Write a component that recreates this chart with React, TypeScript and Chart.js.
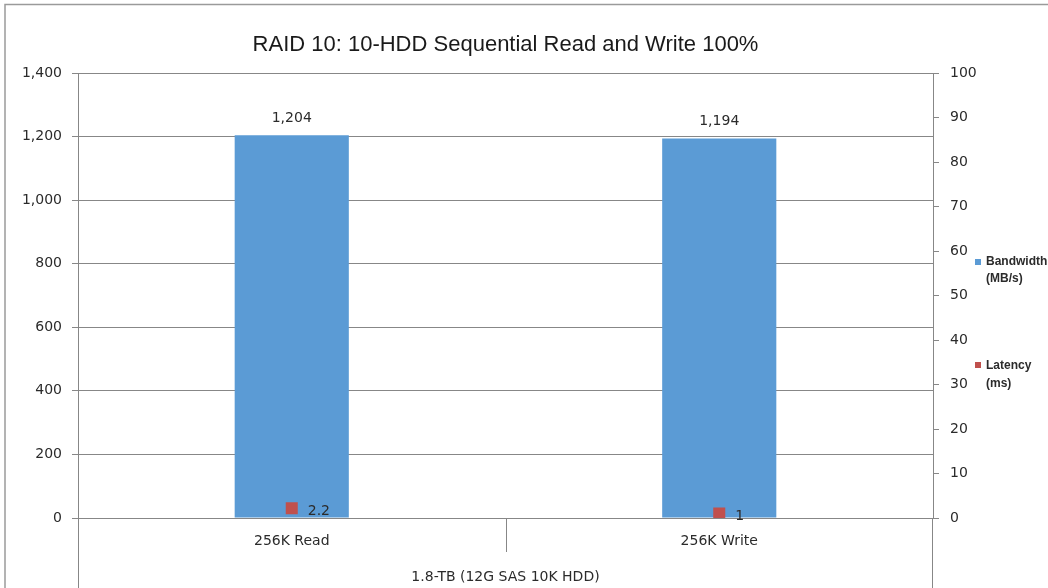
import React, { useEffect, useRef } from 'react';
import { Chart, registerables } from 'chart.js';

Chart.register(...registerables);

const chartTitle = 'RAID 10: 10-HDD Sequential Read and Write 100%';
const categories = ['256K Read', '256K Write'];
const groupLabel = '1.8-TB (12G SAS 10K HDD)';
const bandwidth = [1204, 1194];
const latency = [2.2, 1];
const bandwidthLegend = ['Bandwidth', '(MB/s)'];
const latencyLegend = ['Latency', '(ms)'];
const leftAxis = { min: 0, max: 1400, step: 200 };
const rightAxis = { min: 0, max: 100, step: 10 };

const BAR_COLOR = '#5B9BD5';
const POINT_COLOR = '#C0504D';
const LINE_COLOR = '#878787';
const TEXT_COLOR = '#2b2b2b';
const FONT = '"DejaVu Sans", sans-serif';

const fmt = (v: number) => v.toLocaleString('en-US');

const decorPlugin = {
  id: 'decor',
  afterDraw(chart: any) {
    const ctx = chart.ctx as CanvasRenderingContext2D;
    const area = chart.chartArea;
    const xs = chart.scales.x;
    ctx.save();

    // outer border
    ctx.strokeStyle = '#9a9a9a';
    ctx.lineWidth = 1.5;
    ctx.beginPath();
    ctx.moveTo(5, 600);
    ctx.lineTo(5, 4.5);
    ctx.lineTo(1060, 4.5);
    ctx.stroke();

    // title
    ctx.fillStyle = '#1a1a1a';
    ctx.font = '22px "Liberation Sans", sans-serif';
    ctx.textAlign = 'center';
    ctx.textBaseline = 'middle';
    ctx.fillText(chartTitle, (area.left + area.right) / 2, 45);

    // axis extensions & category separator
    ctx.strokeStyle = LINE_COLOR;
    ctx.lineWidth = 1;
    const lx = Math.round(area.left) + 0.5;
    const rx = Math.round(area.right) - 0.5;
    ctx.beginPath();
    ctx.moveTo(lx, area.bottom);
    ctx.lineTo(lx, 588);
    ctx.moveTo(rx, area.bottom);
    ctx.lineTo(rx, 588);
    const sep = Math.round((xs.getPixelForValue(0) + xs.getPixelForValue(1)) / 2) + 0.5;
    ctx.moveTo(sep, area.bottom);
    ctx.lineTo(sep, area.bottom + 34);
    ctx.stroke();

    // group label
    ctx.fillStyle = TEXT_COLOR;
    ctx.font = '14px ' + FONT;
    ctx.textAlign = 'center';
    ctx.textBaseline = 'middle';
    ctx.fillText(groupLabel, (area.left + area.right) / 2, 577);

    // bar value labels
    const barMeta = chart.getDatasetMeta(0);
    barMeta.data.forEach((el: any, i: number) => {
      ctx.fillText(fmt(bandwidth[i]), el.x, el.y - 17);
    });

    // latency labels
    const ptMeta = chart.getDatasetMeta(1);
    ctx.textAlign = 'left';
    ptMeta.data.forEach((el: any, i: number) => {
      ctx.fillText(String(latency[i]), el.x + 16, el.y + 3);
    });

    // legend
    const legX = area.right + 42;
    ctx.font = 'bold 12px "Liberation Sans", sans-serif';
    ctx.fillStyle = BAR_COLOR;
    ctx.fillRect(legX, 259, 6, 6);
    ctx.fillStyle = TEXT_COLOR;
    ctx.fillText(bandwidthLegend[0], legX + 11, 262);
    ctx.fillText(bandwidthLegend[1], legX + 11, 279);
    ctx.fillStyle = POINT_COLOR;
    ctx.fillRect(legX, 362, 6, 6);
    ctx.fillStyle = TEXT_COLOR;
    ctx.fillText(latencyLegend[0], legX + 11, 366);
    ctx.fillText(latencyLegend[1], legX + 11, 384);

    ctx.restore();
  },
};

export default function App() {
  const ref = useRef<HTMLCanvasElement>(null);

  useEffect(() => {
    if (!ref.current) return;
    Chart.defaults.font.family = FONT;
    Chart.defaults.font.size = 14;
    Chart.defaults.color = TEXT_COLOR;

    const chart = new Chart(ref.current, {
      data: {
        labels: categories,
        datasets: [
          {
            type: 'bar',
            label: bandwidthLegend.join(' '),
            data: bandwidth,
            backgroundColor: BAR_COLOR,
            yAxisID: 'y',
            barPercentage: 0.267,
            categoryPercentage: 1,
            order: 2,
          },
          {
            type: 'line',
            label: latencyLegend.join(' '),
            data: latency,
            showLine: false,
            pointStyle: 'rect',
            pointRadius: 8.5,
            pointBackgroundColor: POINT_COLOR,
            pointBorderColor: POINT_COLOR,
            pointBorderWidth: 0,
            yAxisID: 'y1',
            order: 1,
          },
        ],
      } as any,
      options: {
        responsive: false,
        animation: false,
        layout: { padding: { top: 73, right: 55, bottom: 0, left: 0 } },
        plugins: {
          legend: { display: false },
          title: { display: false },
          tooltip: { enabled: false },
        },
        scales: {
          x: {
            grid: { display: false, drawTicks: false },
            border: { display: true, color: LINE_COLOR },
            ticks: { padding: 15, color: TEXT_COLOR, font: { size: 14 } },
            afterFit: (s: any) => {
              s.height = 70;
            },
          },
          y: {
            position: 'left',
            min: leftAxis.min,
            max: leftAxis.max,
            ticks: {
              stepSize: leftAxis.step,
              padding: 10,
              color: TEXT_COLOR,
              font: { size: 14 },
              callback: (v: any) => fmt(Number(v)),
            },
            grid: { color: LINE_COLOR, tickLength: 6, drawTicks: true },
            border: { color: LINE_COLOR },
            afterFit: (s: any) => {
              s.width = 78;
            },
          },
          y1: {
            position: 'right',
            min: rightAxis.min,
            max: rightAxis.max,
            ticks: {
              stepSize: rightAxis.step,
              padding: 11,
              color: TEXT_COLOR,
              font: { size: 14 },
            },
            grid: { drawOnChartArea: false, color: LINE_COLOR, tickLength: 6, drawTicks: true },
            border: { color: LINE_COLOR },
            afterFit: (s: any) => {
              s.width = 60;
            },
          },
        },
      } as any,
      plugins: [decorPlugin],
    });
    return () => chart.destroy();
  }, []);

  return (
    <div style={{ position: 'fixed', left: 0, top: 0, width: 1048, height: 588, background: '#fff' }}>
      <canvas ref={ref} width={1048} height={588} style={{ display: 'block' }} />
    </div>
  );
}
